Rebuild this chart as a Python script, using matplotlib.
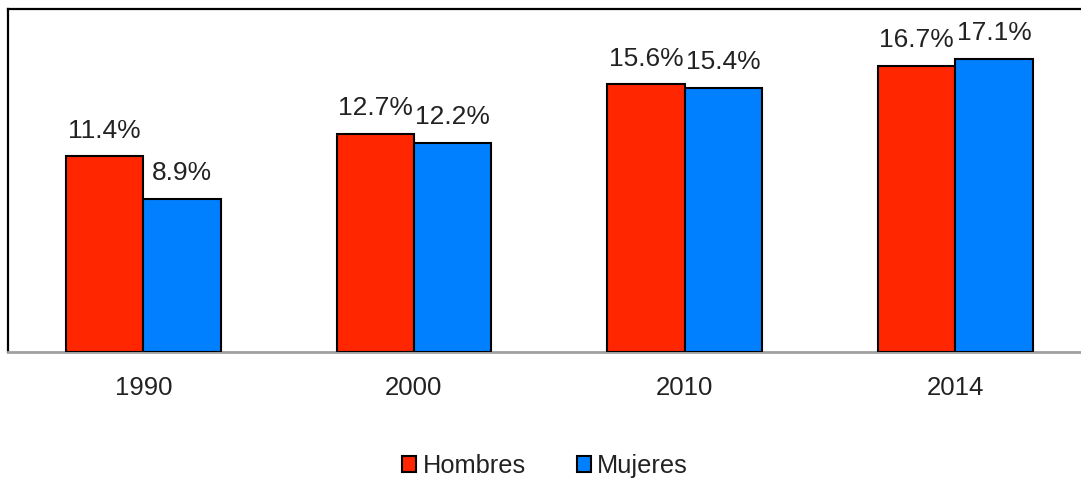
import matplotlib
matplotlib.use("Agg")
import matplotlib.pyplot as plt
import numpy as np

years = ["1990", "2000", "2010", "2014"]
hombres = [11.4, 12.7, 15.6, 16.7]
mujeres = [8.9, 12.2, 15.4, 17.1]
series_names = ["Hombres", "Mujeres"]
colors = ["#FF2600", "#0080FF"]

plt.rcParams['font.family'] = ['Liberation Sans', 'DejaVu Sans']

W, H = 1081, 479
fig = plt.figure(figsize=(W / 100, H / 100), dpi=100)
left = 8 / W
right = 1090.5 / W
top = 1 - 9 / H
bottom = 1 - 352 / H
ax = fig.add_axes([left, bottom, right - left, top - bottom])

x = np.arange(len(years))
bw = 0.286
for vals, name, c, off in [(hombres, series_names[0], colors[0], -bw / 2),
                           (mujeres, series_names[1], colors[1], bw / 2)]:
    bars = ax.bar(x + off, vals, width=bw, color=c, edgecolor="black",
                  linewidth=1.5, label=name, zorder=3)
    for b, v in zip(bars, vals):
        ax.annotate(f"{v:.1f}%", (b.get_x() + b.get_width() / 2, v),
                    xytext=(0, 10), textcoords="offset points",
                    ha="center", va="bottom", fontsize=19, color="#222222")

ax.set_xlim(-0.5, 3.5)
ax.set_ylim(0, 20)
ax.set_xticks(x)
ax.set_xticklabels(years, fontsize=18.5, color="#222222")
ax.tick_params(axis="x", length=0, pad=17)
ax.set_yticks([])
for s in ["left", "top"]:
    ax.spines[s].set_linewidth(1.6)
    ax.spines[s].set_color("black")
ax.spines["right"].set_visible(False)
ax.spines["bottom"].set_color("#A0A0A0")
ax.spines["bottom"].set_linewidth(2)

leg = fig.legend(loc="center", bbox_to_anchor=(545 / W, 1 - 466 / H), ncol=2,
                 frameon=False, fontsize=18.3, handlelength=0.55, handleheight=0.55,
                 handletextpad=0.25, columnspacing=2.0)
for t in leg.get_texts():
    t.set_color("#222222")

fig.savefig("out.png", dpi=100)
